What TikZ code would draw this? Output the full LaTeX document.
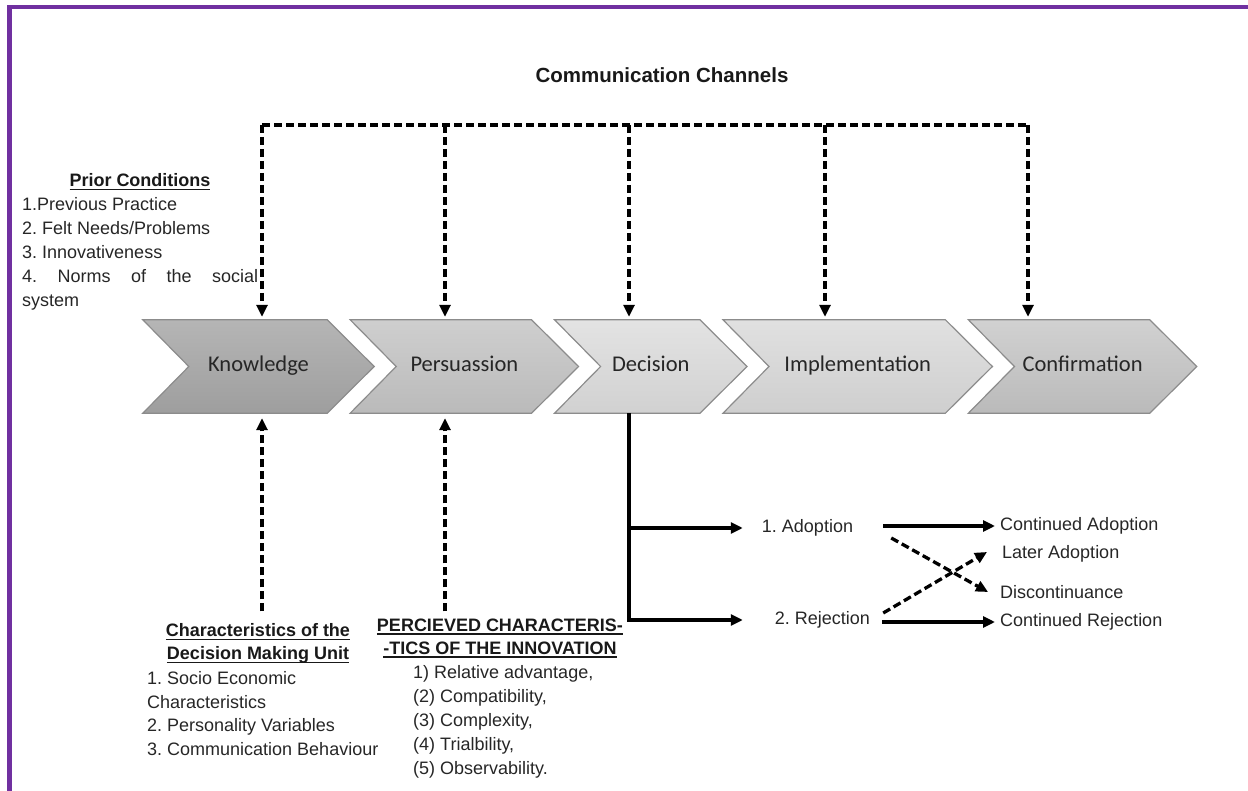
\documentclass[tikz,border=0pt]{standalone}
\usepackage{fontspec}
\setmainfont{Liberation Sans}
\newfontfamily\stagefont{Carlito}
\usetikzlibrary{arrows.meta,positioning,backgrounds}
\definecolor{framepurple}{HTML}{7030A0}
\definecolor{stageline}{HTML}{8C8C8C}
\newlength\ulheadwd
\newcommand\ulhead[1]{\settowidth\ulheadwd{\bfseries #1}\rlap{\rule[-3.5pt]{\ulheadwd}{1.5pt}}{\bfseries #1}}
\frenchspacing

\begin{document}
\begin{tikzpicture}[x=1pt,y=-1pt,node distance=-24pt]
  \tikzset{
    stage/.style={minimum height=93pt,inner sep=0pt,text height=16pt,text depth=5pt,text=black!85,font=\stagefont\fontsize{22.5}{27}\selectfont},
    chevron/.style={draw=stageline,line width=1.2pt},
    txt/.style={inner sep=0pt,align=left,text=black!85,font=\fontsize{18}{24}\selectfont},
    head/.style={inner sep=0pt,align=center,text=black!90,font=\fontsize{18}{23}\selectfont},
    chan/.style={line width=3.3pt,dash pattern=on 8pt off 4pt},
    flow/.style={line width=3.3pt},
    headed/.style={-{Triangle[length=12pt,width=11pt]}}
  }
  \useasboundingbox (0,0) rectangle (1248,791);
  \draw[framepurple,line width=4.5pt] (9.5,791) -- (9.5,7) -- (1248,7);

  % stages
  \node[stage,minimum width=231pt] (know) at (258.5,366.5) {Knowledge};
  \node[stage,minimum width=228pt,right=of know] (pers) {Persuassion};
  \node[stage,minimum width=192pt,right=of pers] (dec) {Decision};
  \node[stage,minimum width=269pt,right=of dec] (impl) {Implementation};
  \node[stage,minimum width=228pt,right=of impl] (conf) {Confirmation};
  \begin{scope}[on background layer]
    \path[chevron,top color=black!29,bottom color=black!38] (know.north west) -- ([xshift=-47pt]know.north east) -- (know.east) -- ([xshift=-47pt]know.south east) -- (know.south west) -- ([xshift=46pt]know.west) -- cycle;
    \path[chevron,top color=black!19,bottom color=black!27] (pers.north west) -- ([xshift=-47pt]pers.north east) -- (pers.east) -- ([xshift=-47pt]pers.south east) -- (pers.south west) -- ([xshift=46pt]pers.west) -- cycle;
    \path[chevron,top color=black!11,bottom color=black!18] (dec.north west) -- ([xshift=-47pt]dec.north east) -- (dec.east) -- ([xshift=-47pt]dec.south east) -- (dec.south west) -- ([xshift=46pt]dec.west) -- cycle;
    \path[chevron,top color=black!12,bottom color=black!19] (impl.north west) -- ([xshift=-47pt]impl.north east) -- (impl.east) -- ([xshift=-47pt]impl.south east) -- (impl.south west) -- ([xshift=46pt]impl.west) -- cycle;
    \path[chevron,top color=black!18,bottom color=black!27] (conf.north west) -- ([xshift=-47pt]conf.north east) -- (conf.east) -- ([xshift=-47pt]conf.south east) -- (conf.south west) -- ([xshift=46pt]conf.west) -- cycle;
  \end{scope}

  % communication channels
  \node[text=black!90,font=\bfseries\fontsize{20.5}{24}\selectfont] (title) at (662,75) {Communication Channels};
  \coordinate (ch1) at (262,125);
  \coordinate (ch2) at (445,125);
  \coordinate (ch3) at (629,125);
  \coordinate (ch4) at (825,125);
  \coordinate (ch5) at (1028,125);
  \draw[chan] (ch1) -- (ch5);
  \draw[chan,headed,shorten >=3pt] (ch1) -- (ch1 |- know.north);
  \draw[chan,headed,shorten >=3pt] (ch2) -- (ch2 |- pers.north);
  \draw[chan,headed,shorten >=3pt] (ch3) -- (ch3 |- dec.north);
  \draw[chan,headed,shorten >=3pt] (ch4) -- (ch4 |- impl.north);
  \draw[chan,headed,shorten >=3pt] (ch5) -- (ch5 |- conf.north);

  % prior conditions
  \node[head] (prior) at (140,182) {\ulhead{Prior Conditions}};
  \node[txt,anchor=north west] (priorlist) at (22,197) {1.Previous Practice\\2. Felt Needs/Problems\\3. Innovativeness\\\makebox[236pt][s]{4. Norms of the social}\\system};

  % decision making unit
  \node[head] (dmu) at (258,643.5) {\ulhead{Characteristics of the}\\\ulhead{Decision Making Unit}};
  \node[txt,font=\fontsize{18}{23.5}\selectfont,anchor=north west] (dmulist) at (147,671.5) {1. Socio Economic\\Characteristics\\2. Personality Variables\\3. Communication Behaviour};
  \draw[chan,headed,shorten <=12pt,shorten >=5pt] (ch1 |- dmu.north) -- (ch1 |- know.south);

  % perceived characteristics
  \node[head] (innov) at (500,638) {\ulhead{PERCIEVED CHARACTERIS-}\\\ulhead{-TICS OF THE INNOVATION}};
  \node[txt,anchor=north west] (innovlist) at (413,665.5) {1) Relative advantage,\\(2) Compatibility,\\(3) Complexity,\\(4) Trialbility,\\(5) Observability.};
  \draw[chan,headed,shorten <=7pt,shorten >=5pt] (ch2 |- innov.north) -- (ch2 |- pers.south);

  % decision outcomes
  \node[txt] (adopt) at (807.5,528) {1. Adoption};
  \node[txt] (rej) at (822.5,620) {2. Rejection};
  \node[txt,anchor=west] (contad) at (1000,526) {Continued Adoption};
  \node[txt,anchor=west] (later) at (1002,554) {Later Adoption};
  \node[txt,anchor=west] (discont) at (1000,592) {Discontinuance};
  \node[txt,anchor=west] (contrej) at (1000,622) {Continued Rejection};
  \draw[flow,headed] (ch3 |- dec.south) -- (ch3 |- rej) -- ([xshift=-32pt]rej.west);
  \draw[flow,headed] (ch3 |- adopt) -- ([xshift=-19pt]adopt.west);
  \draw[flow,headed,shorten <=30pt,shorten >=5pt] (contad.west -| adopt.east) -- (contad.west);
  \draw[flow,headed,shorten <=12pt,shorten >=5pt] (contrej.west -| rej.east) -- (contrej.west);
  \draw[chan,headed] ([xshift=38pt,yshift=-10pt]adopt.east) -- ([xshift=-12pt]discont.west);
  \draw[chan,headed] ([xshift=13pt,yshift=7pt]rej.east) -- ([xshift=-15pt,yshift=2pt]later.west);
\end{tikzpicture}
\end{document}
